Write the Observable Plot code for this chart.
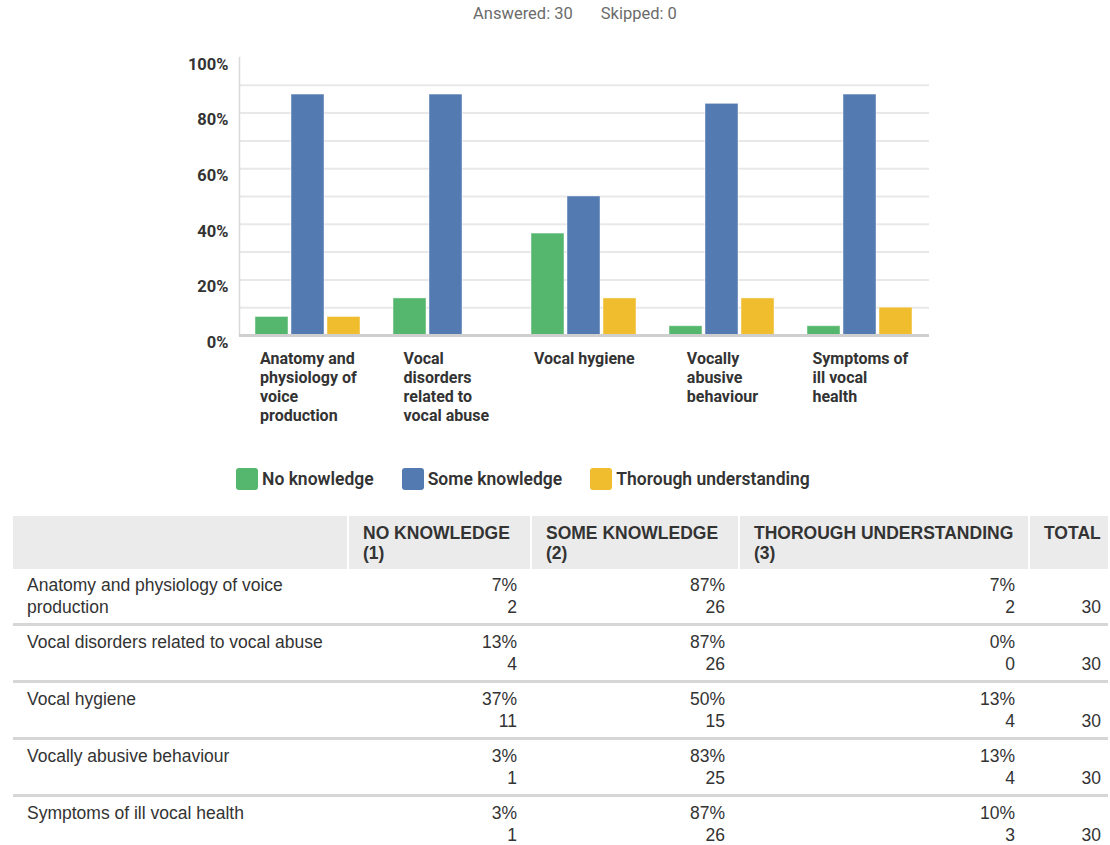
<!DOCTYPE html>
<html>
<head>
<meta charset="utf-8">
<script src="https://cdn.jsdelivr.net/npm/d3@7"></script>
<script src="https://cdn.jsdelivr.net/npm/@observablehq/plot@0.6"></script>
<style>
  body { margin: 0; background: #fff; width: 1110px; height: 845px; position: relative; overflow: hidden; }
  #stats { position: absolute; top: 4px; left: 0; width: 1150px; text-align: center; font: 16.5px Roboto, sans-serif; color: #6b6b6b; }
  #stats span + span { margin-left: 28px; }
  #chart { position: absolute; top: 40px; left: 0; }
  #legend { position: absolute; top: 468px; left: 236px; display: flex; align-items: center; font: 600 17.5px Roboto, sans-serif; color: #333; }
  #legend .item { display: flex; align-items: center; }
  #legend .sw { width: 22px; height: 22px; border-radius: 3px; margin-right: 4px; }
  table { position: absolute; top: 516px; left: 13px; width: 1095px; border-collapse: collapse; table-layout: fixed; font: 17.5px "Liberation Sans", Arial, sans-serif; color: #333; }
  th { background: #ebebeb; text-align: left; vertical-align: top; font-weight: 700; font-size: 17.5px; padding: 7px 14px 6px 14px; line-height: 20px; height: 39px; border-left: 2px solid #fff; }
  th:first-child { border-left: none; }
  th:last-child { padding-right: 6px; }
  td { padding: 5px 14px 5px 14px; line-height: 22px; vertical-align: top; border-bottom: 3px solid #d6d6d6; }
  td:last-child { padding-right: 7px; }
  td.num { text-align: right; }
  tr:last-child td { border-bottom: none; }
</style>
</head>
<body>
<div id="stats"><span>Answered: 30</span><span>Skipped: 0</span></div>
<div id="chart"></div>
<div id="legend"></div>
<table id="tbl"></table>
<script>
// ---- data ----
const categories = [
  "Anatomy and physiology of voice production",
  "Vocal disorders related to vocal abuse",
  "Vocal hygiene",
  "Vocally abusive behaviour",
  "Symptoms of ill vocal health"
];
const axisLabels = [
  "Anatomy and\nphysiology of\nvoice\nproduction",
  "Vocal\ndisorders\nrelated to\nvocal abuse",
  "Vocal hygiene",
  "Vocally\nabusive\nbehaviour",
  "Symptoms of\nill vocal\nhealth"
];
const seriesNames = ["No knowledge", "Some knowledge", "Thorough understanding"];
const columnHeads = ["NO KNOWLEDGE\n(1)", "SOME KNOWLEDGE\n(2)", "THOROUGH UNDERSTANDING\n(3)", "TOTAL"];
const seriesColors = ["#55b76d", "#537ab1", "#f0bd2f"];
const noKnowledge = [2, 4, 11, 1, 1];
const someKnowledge = [26, 26, 15, 25, 26];
const thorough = [2, 0, 4, 4, 3];
const totals = [30, 30, 30, 30, 30];
const yTicks = [0, 20, 40, 60, 80, 100];
const yGrid = [10, 20, 30, 40, 50, 60, 70, 80, 90];

const counts = [noKnowledge, someKnowledge, thorough];
const rows = [];
categories.forEach((c, i) => {
  seriesNames.forEach((s, j) => {
    rows.push({category: c, series: s, count: counts[j][i], pct: counts[j][i] / totals[i] * 100});
  });
});
const labelData = categories.map((c, i) => ({category: c, label: axisLabels[i]}));

const chart = Plot.plot({
  width: 1110,
  height: 390,
  marginLeft: 238,
  marginRight: 180,
  marginTop: 17,
  marginBottom: 95,
  style: {fontFamily: "Roboto, sans-serif", fontSize: "16px", fontWeight: 700, color: "#333", background: "transparent"},
  fx: {domain: categories, padding: 0, axis: null},
  x: {domain: seriesNames, paddingInner: 0.07, paddingOuter: 0.43, axis: null},
  y: {domain: [0, 100], axis: null},
  color: {domain: seriesNames, range: seriesColors},
  marks: [
    Plot.ruleY(yGrid, {stroke: "#e8e8e8", strokeWidth: 2}),
    Plot.frame({anchor: "left", facet: "super", stroke: "#d9d9d9", strokeWidth: 1.5}),
    Plot.barY(rows, {fx: "category", x: "series", y: "pct", fill: "series", stroke: "#ffffff", strokeOpacity: 0.45, strokeWidth: 1}),
    Plot.ruleY([0], {stroke: "#cfcfcf", strokeWidth: 3}),
    Plot.axisY({ticks: yTicks, tickFormat: d => d + "%", tickSize: 0, tickPadding: 11, dy: 7, label: null, fill: "#333", fontSize: 16.5}),
    Plot.text(labelData, {fx: "category", text: "label", frameAnchor: "bottom", lineAnchor: "top", textAnchor: "start", dy: 15, lineHeight: 1.19, fill: "#333"})
  ]
});
document.getElementById("chart").appendChild(chart);

// center each multi-line label block while keeping its lines left-aligned
chart.querySelectorAll('g[aria-label="text"] text').forEach(el => {
  const w = el.getBBox().width;
  el.setAttribute("transform", (el.getAttribute("transform") || "") + ` translate(${-w / 2},0)`);
});

// legend
const legend = document.getElementById("legend");
const gaps = [28, 28, 0];
seriesNames.forEach((s, i) => {
  const item = document.createElement("div");
  item.className = "item";
  item.style.marginRight = gaps[i] + "px";
  item.innerHTML = `<div class="sw" style="background:${seriesColors[i]}"></div><span>${s}</span>`;
  legend.appendChild(item);
});

// table
const tbl = document.getElementById("tbl");
const colWidths = [335, 183, 208, 290, 79];
let html = "<colgroup>" + colWidths.map(w => `<col style="width:${w}px">`).join("") + "</colgroup>";
html += "<tr><th></th>" + columnHeads.map(h => `<th>${h.replace("\n", "<br>")}</th>`).join("") + "</tr>";
categories.forEach((c, i) => {
  html += `<tr><td>${c}</td>`;
  counts.forEach(arr => {
    html += `<td class="num">${Math.round(arr[i] / totals[i] * 100)}%<br>${arr[i]}</td>`;
  });
  html += `<td class="num">&nbsp;<br>${totals[i]}</td></tr>`;
});
tbl.innerHTML = html;
</script>
</body>
</html>
